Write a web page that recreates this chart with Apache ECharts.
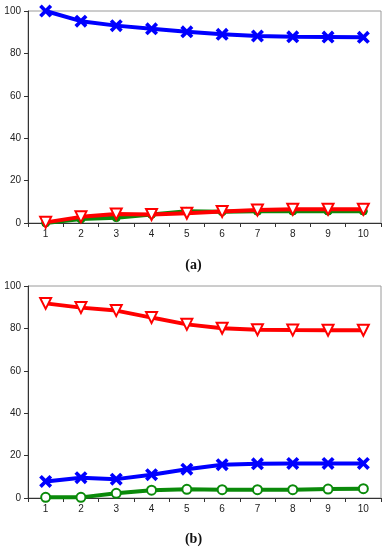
<!DOCTYPE html>
<html><head><meta charset="utf-8">
<script src="https://cdn.jsdelivr.net/npm/echarts@6/dist/echarts.min.js"></script>
<style>html,body{margin:0;padding:0;background:#fff}#c{width:387px;height:550px}</style>
</head><body><div id="c"></div>
<script>
const categories = ['1','2','3','4','5','6','7','8','9','10'];
const yTicks = [0, 20, 40, 60, 80, 100];
// Panel (a)
const aBlue  = [100, 95.2, 93.1, 91.6, 90.2, 89.0, 88.2, 87.8, 87.7, 87.6];
const aRed   = [0.3, 2.9, 4.3, 4.0, 4.6, 5.4, 6.1, 6.5, 6.5, 6.5];
const aGreen = [0, 1.9, 2.5, 4.0, 5.5, 5.3, 5.5, 5.6, 5.6, 5.6];
// Panel (b)
const bRed   = [91.8, 89.8, 88.4, 85.1, 81.9, 80.1, 79.4, 79.2, 79.1, 79.1];
const bBlue  = [7.8, 9.6, 8.9, 11.0, 13.6, 15.7, 16.1, 16.3, 16.3, 16.3];
const bGreen = [0.3, 0.3, 2.2, 3.7, 4.1, 3.9, 3.9, 3.9, 4.2, 4.4];
const panelLabels = ['a', 'b'];

const BLUE = '#0000ff', RED = '#ff0000', GREEN = '#0a8a0a';
const xSym = 'path://M0,2 L2,0 L5,3 L8,0 L10,2 L7,5 L10,8 L8,10 L5,7 L2,10 L0,8 L3,5 Z';

function grid(top){ return {left:28, width:353, top:top, height:212, show:true, borderColor:'#9a9a9a', borderWidth:1, backgroundColor:'transparent'}; }
function xAxis(i){ return {type:'category', gridIndex:i, data:categories, boundaryGap:true,
  axisLine:{lineStyle:{color:'#333', width:1}}, axisTick:{show:true, inside:false, length:4, lineStyle:{color:'#333'}},
  axisLabel:{color:'#222', fontSize:10, fontFamily:'Liberation Sans, Arial', margin:6}, splitLine:{show:false}}; }
function yAxis(i){ return {type:'value', gridIndex:i, min:yTicks[0], max:yTicks[yTicks.length-1], interval:20,
  axisLine:{show:true, lineStyle:{color:'#333', width:1}}, axisTick:{show:true, inside:false, length:4, lineStyle:{color:'#333'}},
  axisLabel:{color:'#222', fontSize:10, fontFamily:'Liberation Sans, Arial', margin:7}, splitLine:{show:false}}; }

function line(i, data, color, kind){
  const s = {type:'line', xAxisIndex:i, yAxisIndex:i, data:data, lineStyle:{color:color, width:4}, animation:false, z:3};
  if (kind==='x'){ s.symbol = xSym; s.symbolSize = 13; s.itemStyle = {color:color}; s.z = 5; }
  else if (kind==='tri'){ s.symbol='triangle'; s.symbolRotate=180; s.symbolSize=11; s.itemStyle={color:'#fff', borderColor:color, borderWidth:2}; s.z = 4; }
  else if (kind==='circ'){ s.symbol='circle'; s.symbolSize=9; s.itemStyle={color:'#fff', borderColor:color, borderWidth:2}; s.z = 3; }
  else if (kind==='circFill'){ s.symbol='circle'; s.symbolSize=8; s.itemStyle={color:color, borderColor:color, borderWidth:1}; s.z = 3; }
  return s;
}

function title(txt, top){
  return {text:'{n|(}{b|'+txt+'}{n|)}', left:'center', top:top,
    textStyle:{rich:{n:{fontFamily:'Liberation Serif, Times New Roman', fontSize:14, color:'#111'},
                     b:{fontFamily:'Liberation Serif, Times New Roman', fontSize:14, fontWeight:'bold', color:'#111'}}}};
}

const chart = echarts.init(document.getElementById('c'), null, {renderer:'canvas'});
chart.setOption({
  animation:false,
  title:[title(panelLabels[0], 253), title(panelLabels[1], 527)],
  grid:[grid(11), grid(286)],
  xAxis:[xAxis(0), xAxis(1)],
  yAxis:[yAxis(0), yAxis(1)],
  series:[
    line(0, aGreen, GREEN, 'circFill'),
    line(0, aRed, RED, 'tri'),
    line(0, aBlue, BLUE, 'x'),
    line(1, bGreen, GREEN, 'circ'),
    line(1, bRed, RED, 'tri'),
    line(1, bBlue, BLUE, 'x')
  ]
});
</script></body></html>
